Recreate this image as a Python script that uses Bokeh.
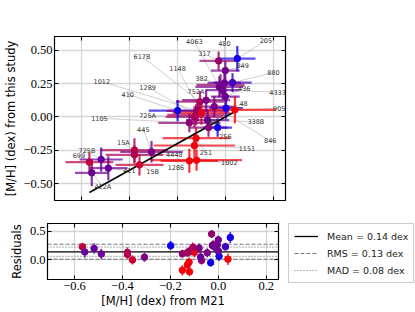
import numpy as np
from bokeh.plotting import figure
from bokeh.models import (ColumnDataSource, Range1d, LinearAxis, FixedTicker,
                          Legend, LegendItem)
from bokeh.layouts import column, row
from bokeh.embed import file_html
from bokeh.resources import INLINE
from bokeh.core.properties import value

# ---------------- data ----------------
labels = ["699", "412A", "725B", "411", "15A", "4448", "15B", "445", "410", "1105",
          "1286", "1002", "1151", "251", "725A", "1289", "1012", "1148", "617B", "752A",
          "846", "408", "338B", "256", "48", "905", "436", "4333", "382", "4063",
          "480", "880", "849", "317", "205"]
mh_m21 = [-0.567, -0.557, -0.518, -0.488, -0.379, -0.379, -0.358, -0.308, -0.199, -0.150,
          -0.150, -0.120, -0.129, -0.122, -0.129, -0.122, -0.115, -0.100, -0.106, -0.080,
          -0.046, -0.070, -0.074, -0.032, 0.003, 0.040, 0.000, -0.011, -0.020, -0.025,
          -0.004, 0.030, 0.000, -0.028, 0.050]
mh_m21_err = [0.10, 0.07, 0.09, 0.08, 0.14, 0.12, 0.10, 0.13, 0.12, 0.13,
              0.12, 0.19, 0.17, 0.14, 0.12, 0.12, 0.13, 0.12, 0.10, 0.10,
              0.08, 0.08, 0.09, 0.06, 0.07, 0.17, 0.06, 0.07, 0.10, 0.10,
              0.07, 0.08, 0.06, 0.08, 0.076]
mh_this = [-0.340, -0.420, -0.320, -0.385, -0.250, -0.285, -0.360, -0.262, 0.047, -0.045,
           -0.330, -0.325, -0.215, -0.160, 0.000, 0.015, 0.045, 0.030, 0.114, 0.125,
           0.077, -0.080, -0.024, -0.080, 0.065, 0.0525, 0.152, 0.200, 0.240, 0.225,
           0.255, 0.257, 0.347, 0.420, 0.437]
mh_this_err = [0.07, 0.10, 0.09, 0.09, 0.09, 0.07, 0.08, 0.08, 0.08, 0.07,
               0.09, 0.08, 0.09, 0.08, 0.08, 0.08, 0.08, 0.09, 0.08, 0.08,
               0.08, 0.07, 0.08, 0.07, 0.08, 0.10, 0.07, 0.07, 0.08, 0.08,
               0.07, 0.07, 0.07, 0.07, 0.094]
color_value = [0.75, 0.42, 0.38, 0.42, 0.72, 0.68, 0.80, 0.48, 0.05, 0.55,
               0.97, 0.97, 0.95, 0.95, 0.62, 0.68, 0.60, 0.90, 0.66, 0.48,
               0.48, 0.55, 0.42, 0.08, 0.10, 1.00, 0.42, 0.42, 0.62, 0.45,
               0.42, 0.25, 0.45, 0.58, 0.08]

mean_res = 0.14
rms_res = 0.13
mad_res = 0.08

x_ticks = [-0.6, -0.4, -0.2, 0.0, 0.2]
y_ticks_main = [-0.5, -0.25, 0.0, 0.25, 0.5]
y_ticks_res = [0.0, 0.5]

# annotation placement (layout only)
label_pos_x = [-0.611, -0.511, -0.577, -0.400, -0.425, -0.2125, -0.303, -0.342, -0.407, -0.525,
               -0.206, 0.0167, 0.090, -0.081, -0.324, -0.324, -0.515, -0.199, -0.3475, -0.1225,
               0.1875, -0.053, 0.1275, 0.000, 0.076, 0.225, 0.079, 0.218, -0.099, -0.129,
               -0.004, 0.201, 0.072, -0.0875, 0.169]
label_pos_y = [-0.290, -0.523, -0.253, -0.405, -0.197, -0.280, -0.410, -0.092, 0.170, -0.010,
               -0.377, -0.343, -0.235, -0.268, 0.010, 0.223, 0.265, 0.365, 0.452, 0.190,
               -0.180, -0.035, -0.0375, -0.148, 0.0975, 0.065, 0.215, 0.185, 0.290, 0.565,
               0.553, 0.332, 0.383, 0.473, 0.572]

# ---------------- derived ----------------
x = np.array(mh_m21)
xe = np.array(mh_m21_err)
y = np.array(mh_this)
ye = np.array(mh_this_err)
t = np.array(color_value)
res = y - x


def blend(v):
    return "#%02x%02x%02x" % (int(round(255 * v)), 0, int(round(255 * (1 - v))))


cols = [blend(v) for v in t]

src = ColumnDataSource(dict(
    x=x, y=y, x0=x - xe, x1=x + xe, y0=y - ye, y1=y + ye,
    res=res, r0=res - ye, r1=res + ye, c=cols, lab=labels,
    lx=label_pos_x, ly=label_pos_y))

TICK_FONT = "Liberation Serif"
LABEL_FONT = "DejaVu Sans"


def fmt(v, nd):
    return f"{v:.{nd}f}".replace("-", "\u2212")


def style_axis(ax, ticks, show, nd=2):
    ax.ticker = FixedTicker(ticks=ticks)
    ax.major_tick_in = 4
    ax.major_tick_out = 0
    ax.minor_tick_line_color = None
    ax.major_tick_line_width = 1
    ax.major_tick_line_color = "black"
    ax.axis_line_color = "black"
    ax.axis_line_width = 1
    if show:
        ax.major_label_overrides = {tk: fmt(tk, nd) for tk in ticks}
        ax.major_label_text_font = TICK_FONT
        ax.major_label_text_font_size = "12.5px"
        ax.major_label_text_color = "black"
        ax.major_label_standoff = 2
        ax.axis_label_text_font = LABEL_FONT
        ax.axis_label_text_font_size = "11.5px"
        ax.axis_label_text_font_style = "normal"
        ax.axis_label_text_color = "black"
        ax.axis_label_standoff = 3
    else:
        ax.major_label_text_font_size = "0px"
        ax.major_label_standoff = 0
        ax.major_label_text_color = None


xr = Range1d(-0.7125, 0.251)

# ---------------- main panel ----------------
p = figure(frame_width=231, frame_height=164, x_range=xr,
           y_range=Range1d(-0.6275, 0.603), output_backend="svg",
           toolbar_location=None, min_border_left=47, min_border_top=36,
           min_border_bottom=9, min_border_right=2)
p.outline_line_color = "black"
p.outline_line_width = 1.2
p.add_layout(LinearAxis(), "above")
p.add_layout(LinearAxis(), "right")
style_axis(p.below[0], x_ticks, False)
style_axis(p.above[0], x_ticks, False)
style_axis(p.right[0], y_ticks_main, False)
style_axis(p.left[0], y_ticks_main, True, 2)
p.left[0].axis_label = "[M/H] (dex) from this study"
for g in (p.xgrid, p.ygrid):
    g.grid_line_color = "#d6d6d6"
    g.grid_line_width = 1.3
p.xgrid.ticker = FixedTicker(ticks=x_ticks)
p.ygrid.ticker = FixedTicker(ticks=y_ticks_main)

# leader lines and labels
p.segment(x0="lx", y0="ly", x1="x", y1="y", source=src, line_color="#999999",
          line_width=0.6, line_alpha=0.8)
# error bars
p.segment(x0="x0", y0="y", x1="x1", y1="y", source=src, line_color="c",
          line_width=2.2, line_alpha=0.7)
p.segment(x0="x", y0="y0", x1="x", y1="y1", source=src, line_color="c",
          line_width=2.2, line_alpha=0.8)
# one-to-one line
p.line(x=[x.min(), x.max()], y=[x.min(), x.max()], line_color="black", line_width=1.6)
p.scatter(x="x", y="y", source=src, size=6.5, fill_color="c", line_color="c")
p.text(x="lx", y="ly", text="lab", source=src, text_font=value(LABEL_FONT),
       text_font_size="6.5px", text_color="#333333", text_align="center",
       text_baseline="middle")

# ---------------- residual panel ----------------
r = figure(frame_width=231, frame_height=56, x_range=xr,
           y_range=Range1d(-0.34, 0.63), output_backend="svg",
           toolbar_location=None, min_border_left=47, min_border_top=13,
           min_border_bottom=4, min_border_right=2)
r.outline_line_color = "black"
r.outline_line_width = 1.2
r.add_layout(LinearAxis(), "above")
r.add_layout(LinearAxis(), "right")
style_axis(r.below[0], x_ticks, True, 1)
style_axis(r.above[0], x_ticks, False)
style_axis(r.right[0], y_ticks_res, False)
style_axis(r.left[0], y_ticks_res, True, 1)
r.below[0].axis_label = "[M/H] (dex) from M21"
r.below[0].axis_label_standoff = 1
r.left[0].axis_label = "Residuals"
for g in (r.xgrid, r.ygrid):
    g.grid_line_color = "#d6d6d6"
    g.grid_line_width = 1.3
r.xgrid.ticker = FixedTicker(ticks=x_ticks)
r.ygrid.ticker = FixedTicker(ticks=y_ticks_res)

span_x = [xr.start, xr.end]
mean_style = dict(line_color="black", line_width=1.3)
rms_style = dict(line_color="#777777", line_width=1.1, line_dash="4 2")
mad_style = dict(line_color="#777777", line_width=1.1, line_dash="1 2")
r.line(x=span_x, y=[mean_res, mean_res], **mean_style)
r.line(x=span_x, y=[mean_res + rms_res] * 2, **rms_style)
r.line(x=span_x, y=[mean_res - rms_res] * 2, **rms_style)
r.line(x=span_x, y=[mean_res + mad_res] * 2, **mad_style)
r.line(x=span_x, y=[mean_res - mad_res] * 2, **mad_style)

r.segment(x0="x", y0="r0", x1="x", y1="r1", source=src, line_color="c",
          line_width=1.6, line_alpha=0.85)
r.scatter(x="x", y="res", source=src, size=6.5, fill_color="c", line_color="c")

# ---------------- legend panel ----------------
# the same reference lines, in a panel whose view range lies away from them,
# so only their legend entries show
lf = figure(frame_width=126, frame_height=60, x_range=Range1d(10, 11),
            y_range=Range1d(10, 11), output_backend="svg", toolbar_location=None,
            x_axis_type=None, y_axis_type=None, min_border_left=8,
            min_border_right=0, min_border_top=14, min_border_bottom=0)
lf.outline_line_color = None
lf.xgrid.visible = False
lf.ygrid.visible = False
g_mean = lf.line(x=span_x, y=[mean_res, mean_res], **mean_style)
g_rms = lf.line(x=span_x, y=[mean_res + rms_res] * 2, **rms_style)
g_mad = lf.line(x=span_x, y=[mean_res + mad_res] * 2, **mad_style)

legend = Legend(items=[
    LegendItem(label=f"Mean = {mean_res:.2f} dex", renderers=[g_mean]),
    LegendItem(label=f"RMS = {rms_res:.2f} dex", renderers=[g_rms]),
    LegendItem(label=f"MAD = {mad_res:.2f} dex", renderers=[g_mad]),
], location="top_left")
legend.label_text_font = LABEL_FONT
legend.label_text_font_size = "9.5px"
legend.label_text_color = "#222222"
legend.glyph_width = 24
legend.glyph_height = 14
legend.label_height = 14
legend.spacing = 3
legend.padding = 5
legend.margin = 0
legend.label_standoff = 9
legend.border_line_color = "#cccccc"
legend.border_line_alpha = 1
legend.border_line_width = 1
legend.background_fill_color = "white"
legend.background_fill_alpha = 1
lf.add_layout(legend)

layout = column(p, row(r, lf))
open("out.html", "w").write(file_html(layout, INLINE))
